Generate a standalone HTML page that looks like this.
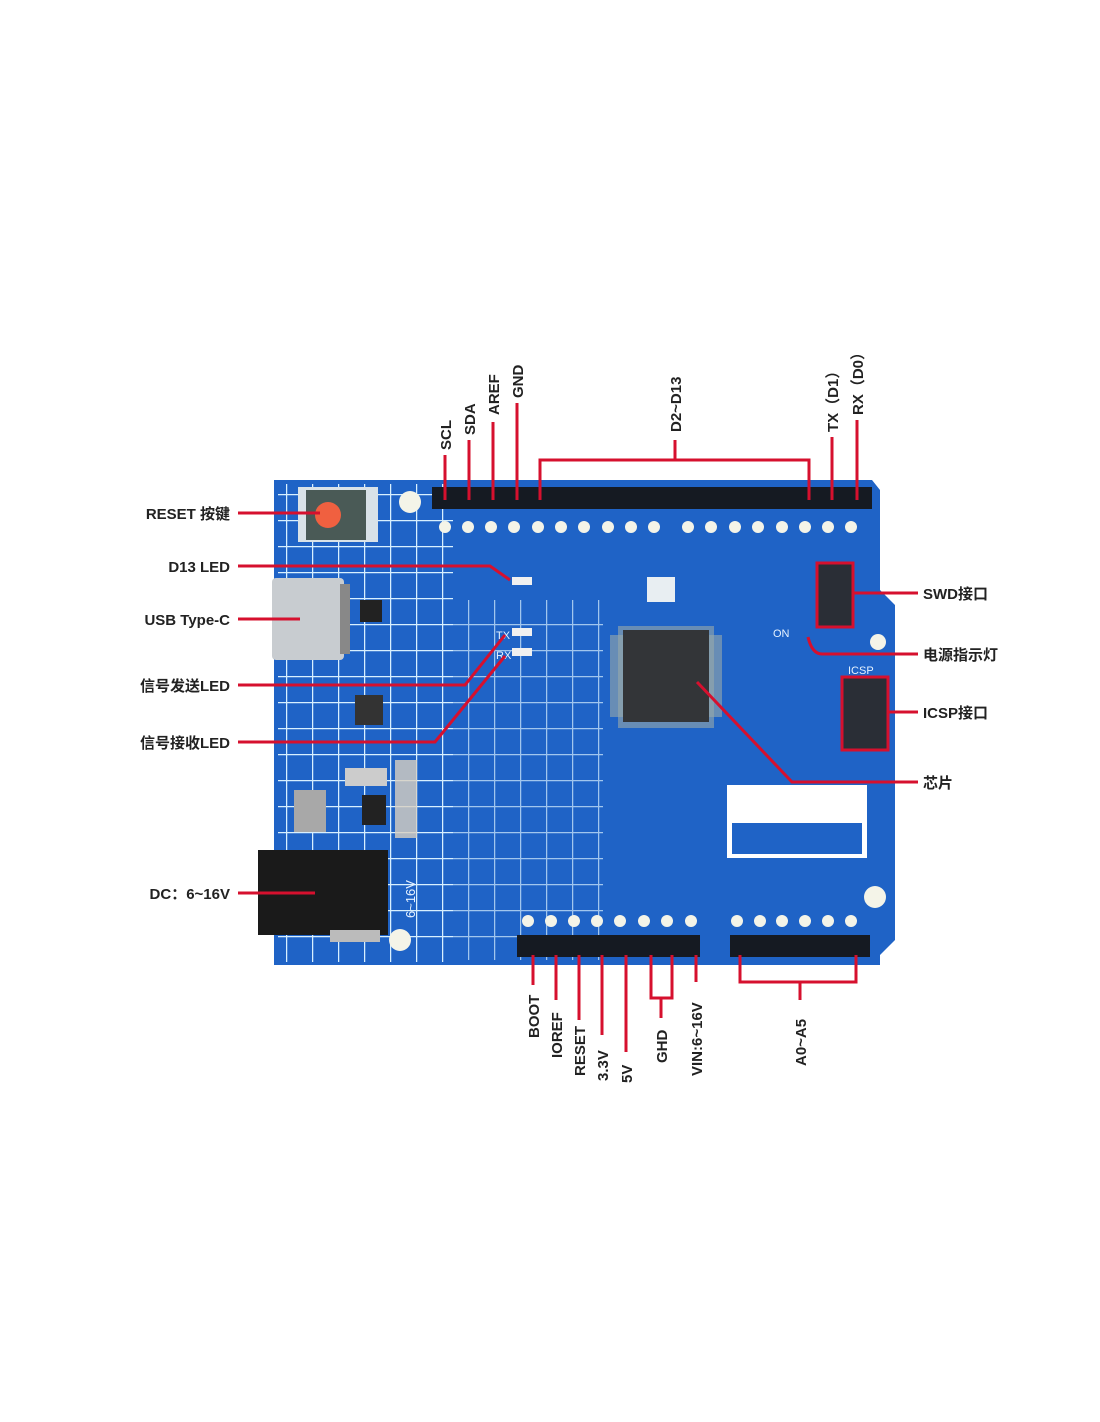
<!DOCTYPE html>
<html><head><meta charset="utf-8"><style>
html,body{margin:0;padding:0;background:#fff;}
svg{display:block}
text{font-family:"Liberation Sans","Noto Sans CJK SC",sans-serif;font-weight:bold;font-size:15px;fill:#222;}
text.b{font-size:11px;fill:#e6f2ff;font-weight:normal}
</style></head><body>
<svg width="1100" height="1422" viewBox="0 0 1100 1422" xmlns="http://www.w3.org/2000/svg">
<defs>
<pattern id="grid" width="26" height="26" patternUnits="userSpaceOnUse">
<path d="M0 0H26M0 0V26" stroke="#d8f0ff" stroke-width="2.5" fill="none"/>
</pattern>
</defs>
<path d="M274 480 H872 L880 490 V590 L895 605 V940 L880 955 V965 H274 Z" fill="#1f63c6"/>
<rect x="278" y="484" width="175" height="478" fill="url(#grid)"/>
<rect x="453" y="600" width="150" height="360" fill="url(#grid)" opacity="0.7"/>
<rect x="432" y="487" width="440" height="22" fill="#151a22"/>
<g fill="#f4f4e8">
<circle cx="445" cy="527" r="6"/><circle cx="468" cy="527" r="6"/><circle cx="491" cy="527" r="6"/><circle cx="514" cy="527" r="6"/><circle cx="538" cy="527" r="6"/><circle cx="561" cy="527" r="6"/><circle cx="584" cy="527" r="6"/><circle cx="608" cy="527" r="6"/><circle cx="631" cy="527" r="6"/><circle cx="654" cy="527" r="6"/>
<circle cx="688" cy="527" r="6"/><circle cx="711" cy="527" r="6"/><circle cx="735" cy="527" r="6"/><circle cx="758" cy="527" r="6"/><circle cx="782" cy="527" r="6"/><circle cx="805" cy="527" r="6"/><circle cx="828" cy="527" r="6"/><circle cx="851" cy="527" r="6"/>
<circle cx="410" cy="502" r="11"/><circle cx="875" cy="897" r="11"/><circle cx="400" cy="940" r="11"/><circle cx="878" cy="642" r="8"/>
</g>
<rect x="517" y="935" width="183" height="22" fill="#151a22"/>
<rect x="730" y="935" width="140" height="22" fill="#151a22"/>
<g fill="#f4f4e8">
<circle cx="528" cy="921" r="6"/><circle cx="551" cy="921" r="6"/><circle cx="574" cy="921" r="6"/><circle cx="597" cy="921" r="6"/><circle cx="620" cy="921" r="6"/><circle cx="644" cy="921" r="6"/><circle cx="667" cy="921" r="6"/><circle cx="691" cy="921" r="6"/>
<circle cx="737" cy="921" r="6"/><circle cx="760" cy="921" r="6"/><circle cx="782" cy="921" r="6"/><circle cx="805" cy="921" r="6"/><circle cx="828" cy="921" r="6"/><circle cx="851" cy="921" r="6"/>
</g>
<rect x="298" y="487" width="80" height="55" fill="#d9e2e8"/>
<rect x="306" y="490" width="60" height="50" fill="#4a5a56"/>
<circle cx="328" cy="515" r="13" fill="#f06040"/>
<rect x="272" y="578" width="72" height="82" rx="4" fill="#c8ccd0"/>
<rect x="340" y="584" width="10" height="70" fill="#888"/>
<rect x="360" y="600" width="22" height="22" fill="#222"/>
<rect x="355" y="695" width="28" height="30" fill="#333"/>
<rect x="294" y="790" width="32" height="42" fill="#a8a8a8"/>
<rect x="362" y="795" width="24" height="30" fill="#222"/>
<rect x="345" y="768" width="42" height="18" fill="#ccc"/>
<rect x="395" y="760" width="22" height="78" fill="#d8d0c0" opacity="0.8"/>
<rect x="647" y="577" width="28" height="25" fill="#e8eef2"/>
<rect x="512" y="577" width="20" height="8" fill="#f0f0f0"/>
<rect x="512" y="628" width="20" height="8" fill="#f0f0f0"/>
<rect x="512" y="648" width="20" height="8" fill="#f0f0f0"/>
<rect x="610" y="635" width="112" height="82" fill="#9aa" opacity="0.6"/>
<rect x="618" y="626" width="96" height="102" fill="#9aa" opacity="0.6"/>
<rect x="623" y="630" width="86" height="92" fill="#333538"/>
<rect x="817" y="563" width="36" height="64" fill="#2a2e36"/>
<rect x="842" y="677" width="46" height="73" fill="#2a2e36"/>
<rect x="727" y="785" width="140" height="73" fill="#fff"/>
<rect x="732" y="823" width="130" height="31" fill="#1f63c6"/>
<rect x="258" y="850" width="130" height="85" fill="#1a1a1a"/>
<rect x="330" y="930" width="50" height="12" fill="#bbb"/>
<text class="b" x="496" y="639">TX</text><text class="b" x="496" y="659">RX</text><text class="b" x="773" y="637">ON</text><text class="b" x="848" y="674">ICSP</text>
<text class="b" transform="translate(415,918) rotate(-90)" style="font-size:13px">6~16V</text>
<g stroke="#d6102e" stroke-width="3" fill="none">
<path d="M238 513H320"/>
<path d="M238 566H490L510 580"/>
<path d="M238 619H300"/>
<path d="M238 685H465L505 635"/>
<path d="M238 742H435L505 656"/>
<path d="M238 893H315"/>
<path d="M445 455V500"/><path d="M469 440V500"/><path d="M493 422V500"/><path d="M517 403V500"/>
<path d="M540 500V460H809V500"/><path d="M675 440V460"/>
<path d="M832 437V500"/><path d="M857 420V500"/>
<path d="M817 563H853V627H817Z"/><path d="M853 593H918"/>
<path d="M842 677H888V750H842Z"/><path d="M888 712H918"/>
<path d="M918 654H822Q812 654 808 637"/>
<path d="M918 782H792L697 682"/>
<path d="M533 955V985"/><path d="M556 955V1000"/><path d="M579 955V1020"/><path d="M602 955V1035"/><path d="M626 955V1052"/>
<path d="M651 955V998H672V955"/><path d="M661 998V1018"/>
<path d="M696 955V982"/>
<path d="M740 955V982H856V955"/><path d="M800 982V1000"/>
</g>
<g text-anchor="end">
<text x="230" y="519">RESET 按键</text>
<text x="230" y="572">D13 LED</text>
<text x="230" y="625">USB Type-C</text>
<text x="230" y="691">信号发送LED</text>
<text x="230" y="748">信号接收LED</text>
<text x="230" y="899">DC：6~16V</text>
</g>
<text x="923" y="599">SWD接口</text>
<text x="923" y="660">电源指示灯</text>
<text x="923" y="718">ICSP接口</text>
<text x="923" y="788">芯片</text>
<text transform="translate(451,450) rotate(-90)">SCL</text>
<text transform="translate(475,435) rotate(-90)">SDA</text>
<text transform="translate(499,415) rotate(-90)">AREF</text>
<text transform="translate(523,398) rotate(-90)">GND</text>
<text transform="translate(681,432) rotate(-90)">D2~D13</text>
<text transform="translate(838,432) rotate(-90)">TX（D1）</text>
<text transform="translate(863,415) rotate(-90)">RX（D0）</text>
<text transform="translate(539,1038) rotate(-90)">BOOT</text>
<text transform="translate(562,1058) rotate(-90)">IOREF</text>
<text transform="translate(585,1076) rotate(-90)">RESET</text>
<text transform="translate(608,1081) rotate(-90)">3.3V</text>
<text transform="translate(632,1083) rotate(-90)">5V</text>
<text transform="translate(667,1063) rotate(-90)">GHD</text>
<text transform="translate(702,1076) rotate(-90)">VIN:6~16V</text>
<text transform="translate(806,1066) rotate(-90)">A0~A5</text>
</svg>
</body></html>
